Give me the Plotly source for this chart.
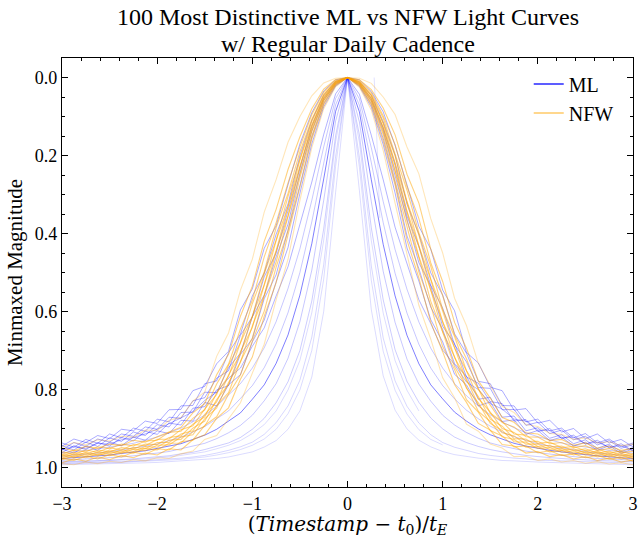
import plotly.graph_objects as go

# ---------------- shared time grid, (t - t0)/tE ----------------
X_GRID = [-3.0, -2.875, -2.75, -2.625, -2.5, -2.375, -2.25, -2.125, -2.0, -1.875,
          -1.75, -1.625, -1.5, -1.375, -1.25, -1.125, -1.0, -0.875, -0.75, -0.625,
          -0.5, -0.375, -0.25, -0.125, 0.0, 0.125, 0.25, 0.375, 0.5, 0.625, 0.75,
          0.875, 1.0, 1.125, 1.25, 1.375, 1.5, 1.625, 1.75, 1.875, 2.0, 2.125, 2.25,
          2.375, 2.5, 2.625, 2.75, 2.875, 3.0]

# ---------------- NFW light curves (minmaxed magnitude) ----------------
NFW_1 = [.95,.957,.946,.951,.94,.944,.93,.935,.921,.91,.897,.86,.836,.762,.71,.612,.535,.42,.338,.236,.152,.08,.03,.005, 0.0,
         .006,.031,.078,.147,.248,.322,.44,.523,.628,.694,.778,.822,.872,.884,.911,.914,.931,.928,.943,.937,.95,.945,.956,.951]
NFW_2 = [.966,.955,.96,.947,.952,.94,.945,.932,.93,.91,.907,.874,.852,.786,.735,.645,.571,.46,.372,.27,.178,.095,.038,.008, 0.0,
         .009,.039,.098,.172,.279,.362,.475,.559,.66,.721,.799,.84,.885,.896,.921,.922,.939,.936,.949,.944,.957,.951,.962,.958]
NFW_3 = [.96,.967,.955,.961,.949,.955,.941,.944,.928,.927,.903,.893,.85,.813,.738,.68,.58,.498,.385,.297,.19,.107,.043,.010, 0.0,
         .011,.044,.104,.196,.289,.398,.484,.595,.664,.752,.798,.861,.882,.914,.917,.938,.935,.949,.946,.957,.952,.963,.958,.968]
NFW_4 = [.971,.961,.966,.955,.96,.949,.953,.94,.941,.923,.919,.889,.87,.809,.766,.68,.613,.503,.417,.305,.209,.112,.047,.011, 0.0,
         .012,.046,.117,.201,.318,.404,.517,.599,.694,.752,.823,.858,.9,.91,.932,.933,.948,.945,.957,.952,.963,.958,.969,.964]
NFW_5 = [.966,.972,.961,.967,.955,.961,.948,.952,.936,.936,.914,.906,.864,.832,.763,.709,.612,.532,.418,.331,.211,.121,.05,.012, 0.0,
         .013,.051,.118,.219,.319,.432,.518,.627,.692,.778,.818,.876,.894,.926,.927,.946,.943,.956,.952,.963,.958,.969,.963,.974]
NFW_6 = [.976,.965,.971,.96,.965,.955,.959,.946,.948,.93,.928,.899,.881,.826,.787,.703,.641,.531,.444,.331,.228,.125,.053,.014, 0.0,
         .015,.054,.129,.22,.343,.432,.545,.626,.718,.773,.84,.87,.911,.919,.94,.94,.954,.951,.963,.957,.968,.963,.973,.968]
NFW_7 = [.97,.975,.965,.97,.96,.964,.953,.957,.943,.942,.922,.916,.875,.847,.782,.73,.637,.559,.446,.355,.23,.132,.056,.015, 0.0,
         .016,.057,.129,.238,.344,.459,.545,.652,.716,.797,.834,.887,.905,.934,.935,.951,.949,.961,.957,.968,.962,.973,.967,.978]
NFW_8 = [.98,.97,.975,.965,.97,.96,.963,.951,.955,.938,.937,.908,.894,.841,.808,.728,.668,.56,.473,.356,.248,.137,.059,.016, 0.0,
         .017,.06,.14,.24,.368,.461,.574,.653,.742,.794,.856,.882,.921,.928,.948,.946,.96,.956,.968,.962,.973,.967,.978,.972]
NFW_9 = [.976,.982,.971,.978,.967,.973,.961,.966,.952,.955,.934,.93,.892,.87,.812,.763,.676,.599,.486,.392,.256,.149,.064,.018, 0.0,
         .019,.065,.146,.265,.379,.499,.585,.69,.749,.826,.858,.905,.919,.947,.945,.962,.957,.969,.965,.975,.969,.979,.974,.984]
NFW_10 = [.988,.978,.984,.973,.98,.969,.975,.963,.968,.952,.955,.929,.916,.874,.847,.774,.717,.612,.526,.404,.284,.158,.07,.02, 0.0,
          .021,.071,.163,.276,.417,.514,.628,.703,.787,.833,.887,.904,.941,.945,.963,.959,.972,.967,.978,.972,.982,.976,.986,.981]
NFW_11 = [.947,.936,.942,.929,.932,.92,.922,.904,.905,.879,.872,.83,.806,.715,.655,.545,.466,.345,.262,.166,.1,.047,.014,.002, 0.0,
          .002,.015,.05,.095,.178,.247,.362,.45,.566,.636,.733,.79,.843,.859,.89,.895,.913,.915,.928,.924,.937,.934,.944,.94]
NFW_12 = [.99,.993,.986,.99,.984,.987,.98,.983,.975,.977,.965,.958,.928,.918,.875,.834,.758,.684,.57,.466,.315,.18,.08,.024, 0.0,
          .025,.083,.187,.322,.455,.584,.671,.77,.821,.889,.907,.94,.95,.972,.971,.982,.978,.986,.982,.989,.985,.991,.988,.993]

# ---------------- ML light curves: broad events ----------------
ML_W1 = [.945,.927,.936,.918,.926,.902,.906,.881,.887,.852,.851,.803,.792,.734,.702,.596,.542,.438,.38,.274,.17,.09,.035,.006, 0.0,
         .006,.036,.088,.174,.275,.382,.44,.545,.598,.705,.732,.794,.803,.853,.849,.886,.879,.909,.9,.926,.914,.937,.928,.947]
ML_W2 = [.937,.948,.928,.938,.914,.924,.899,.907,.876,.883,.842,.841,.785,.778,.706,.658,.56,.502,.402,.324,.2,.11,.045,.01, 0.0,
         .011,.046,.113,.199,.325,.402,.501,.558,.657,.707,.779,.785,.841,.842,.883,.876,.906,.899,.924,.913,.937,.927,.947,.937]
ML_W3 = [.955,.936,.946,.927,.935,.914,.92,.896,.902,.871,.874,.829,.821,.771,.752,.661,.614,.511,.45,.342,.232,.125,.053,.013, 0.0,
         .014,.054,.129,.225,.355,.434,.533,.591,.685,.729,.795,.797,.852,.851,.892,.884,.913,.904,.929,.92,.942,.931,.951,.941]
ML_W4 = [.944,.955,.935,.946,.924,.933,.909,.918,.89,.896,.859,.858,.807,.808,.744,.707,.614,.558,.46,.376,.245,.138,.059,.016, 0.0,
         .017,.06,.136,.252,.363,.475,.535,.638,.682,.768,.784,.831,.836,.881,.877,.908,.9,.926,.917,.94,.93,.95,.939,.958]
ML_W5 = [.962,.944,.954,.936,.945,.923,.932,.907,.915,.886,.891,.848,.844,.801,.79,.71,.67,.567,.506,.394,.277,.153,.067,.019, 0.0,
         .02,.068,.156,.27,.406,.49,.589,.646,.734,.766,.825,.82,.871,.868,.906,.898,.925,.916,.939,.929,.951,.94,.959,.949]
ML_W6 = [.953,.963,.945,.956,.935,.944,.922,.93,.906,.913,.879,.881,.833,.842,.788,.762,.678,.622,.524,.436,.297,.17,.075,.022, 0.0,
         .023,.076,.172,.296,.437,.522,.621,.678,.761,.788,.842,.832,.882,.878,.915,.905,.931,.922,.945,.935,.956,.944,.964,.952]

# ---------------- ML light curves: short, sharp events ----------------
ML_N1 = [.993,.9925,.992,.991,.9905,.99,.989,.988,.987,.985,.984,.982,.98,.977,.973,.967,.96,.9475,.931,.902,.855,.768,.60,.295, 0.0,
         .29,.595,.765,.853,.901,.93,.947,.959,.967,.972,.976,.979,.982,.983,.985,.986,.987,.988,.989,.99,.991,.991,.992,.993]
ML_N2 = [.989,.9885,.988,.987,.986,.985,.984,.982,.981,.979,.976,.973,.969,.963,.956,.947,.935,.915,.885,.842,.776,.666,.48,.203, 0.0,
         .205,.483,.668,.778,.843,.886,.916,.936,.948,.957,.964,.969,.973,.976,.978,.981,.982,.983,.985,.986,.987,.987,.988,.989]
ML_N3 = [.985,.9845,.984,.9825,.981,.98,.978,.975,.973,.97,.965,.961,.954,.946,.937,.923,.902,.874,.834,.78,.70,.573,.388,.149, 0.0,
         .147,.385,.57,.698,.779,.833,.873,.901,.922,.936,.946,.954,.96,.965,.969,.972,.975,.977,.979,.981,.982,.983,.984,.985]
ML_N4 = [.9815,.98,.979,.977,.975,.973,.97,.967,.963,.959,.952,.946,.938,.926,.911,.892,.866,.829,.785,.72,.626,.494,.315,.112, 0.0,
         .114,.318,.497,.628,.722,.786,.83,.866,.891,.91,.925,.937,.945,.952,.958,.962,.966,.969,.972,.975,.977,.978,.98,.981]
ML_N5 = [.977,.975,.973,.971,.968,.964,.961,.957,.951,.945,.939,.928,.917,.902,.882,.86,.825,.788,.733,.66,.558,.426,.26,.087, 0.0,
         .088,.262,.428,.56,.661,.734,.788,.824,.858,.881,.901,.916,.928,.938,.945,.951,.956,.96,.964,.967,.97,.973,.975,.977]
ML_N6 = [.971,.968,.966,.963,.96,.955,.95,.945,.94,.931,.922,.909,.895,.875,.855,.823,.79,.744,.683,.603,.5,.37,.215,.07, 0.0,
         .071,.218,.372,.502,.604,.684,.745,.79,.824,.853,.875,.894,.909,.921,.931,.939,.945,.95,.955,.959,.963,.966,.968,.971]
ML_N7 = [.963,.96,.956,.952,.948,.943,.938,.93,.922,.911,.899,.883,.866,.843,.815,.785,.745,.693,.626,.541,.439,.315,.178,.054, 0.0,
         .055,.18,.318,.441,.543,.627,.694,.745,.785,.816,.842,.865,.883,.898,.911,.921,.93,.937,.943,.948,.952,.956,.959,.963]
ML_N8 = [.955,.947,.951,.938,.94,.929,.923,.914,.902,.888,.873,.857,.828,.807,.771,.745,.689,.642,.56,.485,.376,.268,.146,.042, 0.0,
         .043,.148,.262,.384,.476,.57,.631,.699,.736,.781,.8,.836,.85,.876,.881,.904,.905,.924,.922,.939,.935,.948,.944,.957]

# ---------------- ML light curves whose data stop early ----------------
ML_P1 = [.9905,.99,.989,.988,.988,.987,.985,.984,.983,.981,.979,.976,.973,.968,.962,.954,.943,.927,.902,.862,.801,.70,.517,.228, 0.0,
         .23,.52,.702,.802,.863,.903,.928,.942, None,None,None,None,None,None,None,None,None,None,None,None,None,None,None,None]
ML_P2 = [.987,.986,.985,.984,.983,.982,.98,.978,.976,.973,.969,.965,.96,.952,.943,.931,.913,.89,.855,.801,.725,.603,.417,.165, 0.0,
         .166,.418,.604,.726,.802,.855, None,None,None,None,None,None,None,None,None,None,None,None,None,None,None,None,None,None]
ML_P3_X = [0.28, 0.29, 0.30, 0.31, 0.32, 0.33, 0.34]
ML_P3_Y = [0.0, 0.04, 0.10, 0.17, 0.24, 0.31, 0.36]

NFW_CURVES = [NFW_1, NFW_2, NFW_3, NFW_4, NFW_5, NFW_6, NFW_7, NFW_8, NFW_9, NFW_10, NFW_11, NFW_12]
NFW_ALPHA = [0.5, 0.5, 0.5, 0.5, 0.5, 0.5, 0.5, 0.5, 0.5, 0.5, 0.28, 0.3]
ML_WIDE = [ML_W1, ML_W2, ML_W3, ML_W4, ML_W5, ML_W6]
ML_NARROW = [ML_N1, ML_N2, ML_N3, ML_N4, ML_N5, ML_N6, ML_N7, ML_N8, ML_P1, ML_P2]
ML_NARROW_ALPHA = [0.14, 0.16, 0.2, 0.22, 0.5, 0.22, 0.22, 0.3, 0.14, 0.14]

TITLE_LINES = ["100 Most Distinctive ML vs NFW Light Curves", "w/ Regular Daily Cadence"]

BLUE = "0,0,255"
ORANGE = "255,165,0"

fig = go.Figure()

for ys in ML_WIDE:
    fig.add_trace(go.Scatter(x=X_GRID, y=ys, mode="lines", showlegend=False, hoverinfo="skip",
                             line=dict(color=f"rgba({BLUE},0.33)", width=1)))
for ys, a in zip(ML_NARROW, ML_NARROW_ALPHA):
    fig.add_trace(go.Scatter(x=X_GRID, y=ys, mode="lines", showlegend=False, hoverinfo="skip",
                             connectgaps=False, line=dict(color=f"rgba({BLUE},{a})", width=1)))
fig.add_trace(go.Scatter(x=ML_P3_X, y=ML_P3_Y, mode="lines", showlegend=False, hoverinfo="skip",
                         line=dict(color=f"rgba({BLUE},0.12)", width=1)))
for ys, a in zip(NFW_CURVES, NFW_ALPHA):
    fig.add_trace(go.Scatter(x=X_GRID, y=ys, mode="lines", showlegend=False, hoverinfo="skip",
                             line=dict(color=f"rgba({ORANGE},{a})", width=1.1)))

# legend entries
fig.add_trace(go.Scatter(x=[None], y=[None], mode="lines", name="ML",
                         line=dict(color=f"rgba({BLUE},0.85)", width=1.5)))
fig.add_trace(go.Scatter(x=[None], y=[None], mode="lines", name="NFW",
                         line=dict(color=f"rgba({ORANGE},0.6)", width=1.5)))

FONT = "Liberation Serif"
axis_common = dict(
    showline=True, linecolor="black", linewidth=1.2, mirror="allticks",
    ticks="inside", ticklen=6, tickwidth=1, tickcolor="black",
    showgrid=False, zeroline=False,
    tickfont=dict(family=FONT, size=18, color="black"),
)

fig.update_layout(
    width=644, height=538,
    margin=dict(l=62, r=6, t=58, b=51),
    plot_bgcolor="white", paper_bgcolor="white",
    font=dict(family=FONT, size=18, color="black"),
    legend=dict(x=0.975, y=0.985, xanchor="right", yanchor="top", bgcolor="rgba(0,0,0,0)",
                font=dict(family=FONT, size=20, color="black")),
    xaxis=dict(range=[-3, 3], tickvals=[-3, -2, -1, 0, 1, 2, 3],
               minor=dict(ticks="inside", ticklen=3, dtick=0.2, tick0=0, tickcolor="black", showgrid=False),
               title=dict(text="(<i>Timestamp</i> − <i>t</i><sub>0</sub>)/<i>t</i><sub><i>E</i></sub>",
                          font=dict(family="DejaVu Serif", size=20), standoff=3),
               **axis_common),
    yaxis=dict(range=[1.05, -0.05], tickvals=[0.0, 0.2, 0.4, 0.6, 0.8, 1.0], tickformat=".1f",
               minor=dict(ticks="inside", ticklen=3, dtick=0.05, tick0=0, tickcolor="black", showgrid=False),
               title=dict(text="Minmaxed Magnitude", font=dict(family=FONT, size=21), standoff=6),
               **axis_common),
    annotations=[
        dict(text=TITLE_LINES[0], x=0.5, y=1.0956, xref="paper", yref="paper",
             xanchor="center", yanchor="middle", showarrow=False,
             font=dict(family=FONT, size=24, color="black")),
        dict(text=TITLE_LINES[1], x=0.5, y=1.0326, xref="paper", yref="paper",
             xanchor="center", yanchor="middle", showarrow=False,
             font=dict(family=FONT, size=24, color="black")),
    ],
)

fig.write_html("out.html", config={"displayModeBar": False},
               post_script="document.body.style.margin='0';")
